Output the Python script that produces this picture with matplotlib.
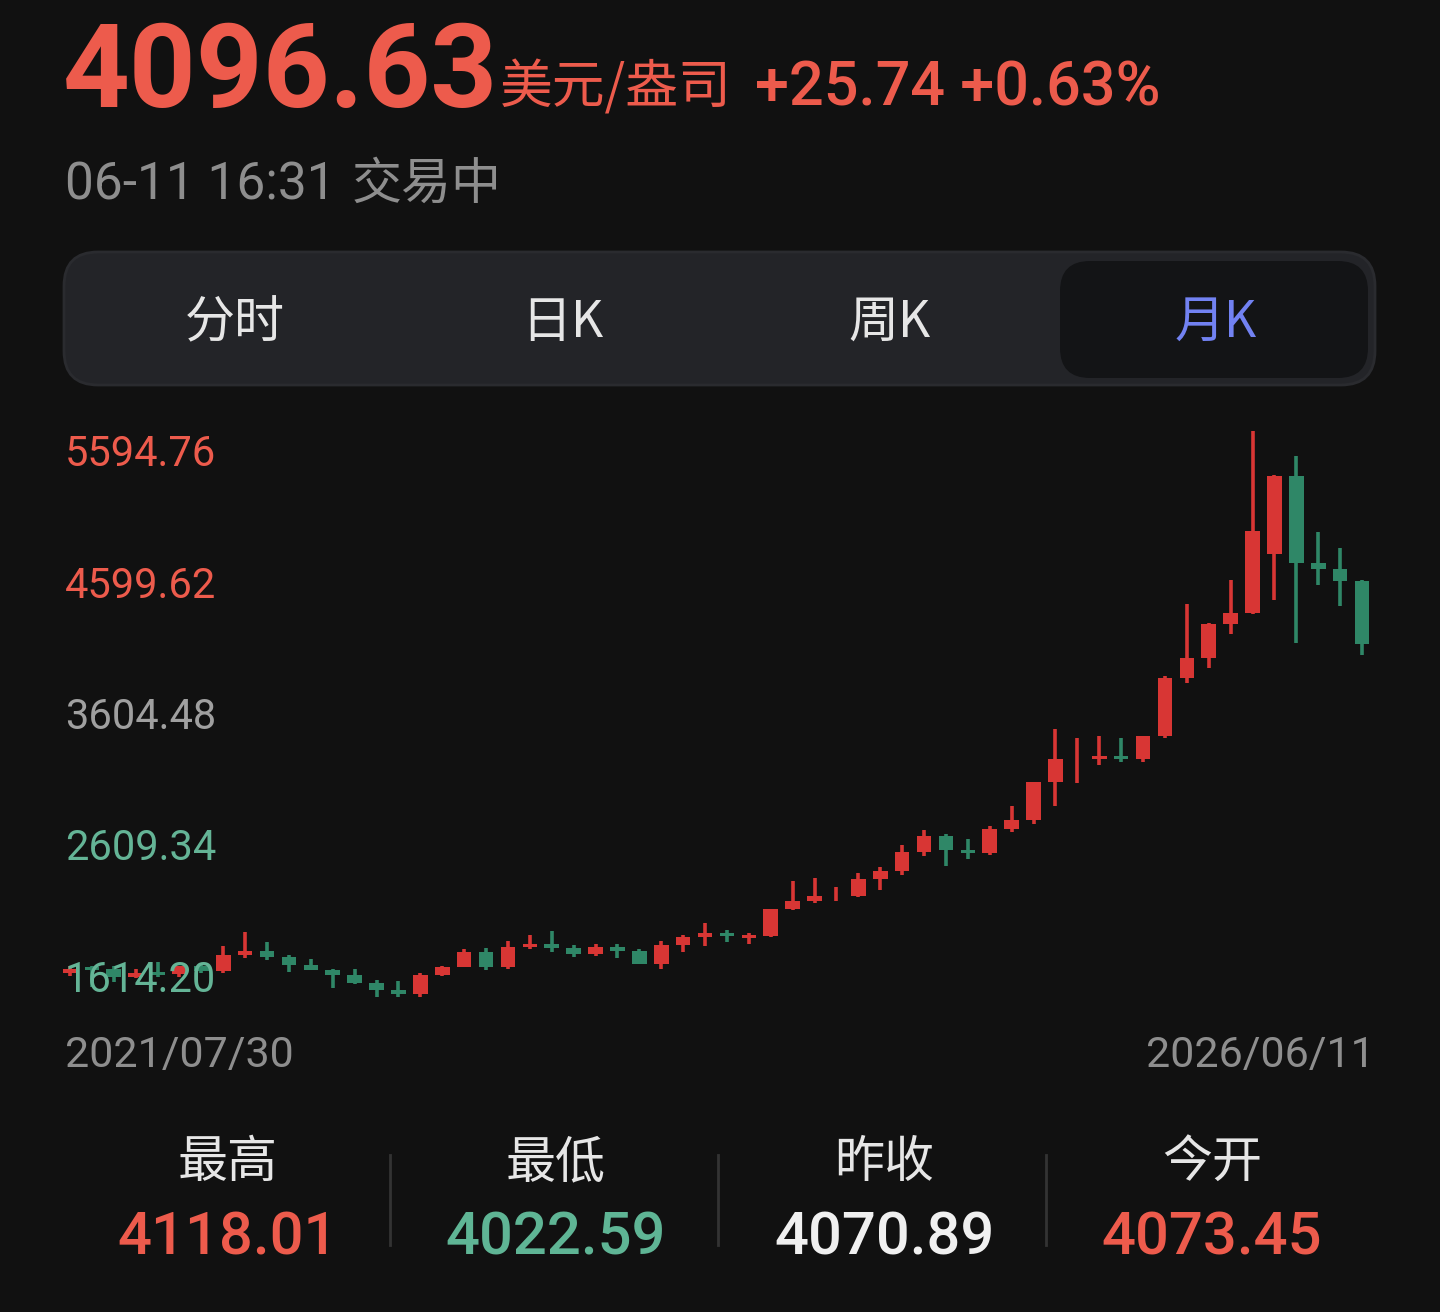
'''
Gold monthly K-line screen (美元/盎司), dark theme.
'''

# Modules
import matplotlib
matplotlib.use('Agg')
from matplotlib import pyplot as plt
from matplotlib.patches import FancyBboxPatch
import numpy as np

# Monthly candles 2021/07 .. 2026/06
months = ['2021-07', '2021-08', '2021-09', '2021-10', '2021-11', '2021-12',
          '2022-01', '2022-02', '2022-03', '2022-04', '2022-05', '2022-06',
          '2022-07', '2022-08', '2022-09', '2022-10', '2022-11', '2022-12',
          '2023-01', '2023-02', '2023-03', '2023-04', '2023-05', '2023-06',
          '2023-07', '2023-08', '2023-09', '2023-10', '2023-11', '2023-12',
          '2024-01', '2024-02', '2024-03', '2024-04', '2024-05', '2024-06',
          '2024-07', '2024-08', '2024-09', '2024-10', '2024-11', '2024-12',
          '2025-01', '2025-02', '2025-03', '2025-04', '2025-05', '2025-06',
          '2025-07', '2025-08', '2025-09', '2025-10', '2025-11', '2025-12',
          '2026-01', '2026-02', '2026-03', '2026-04', '2026-05', '2026-06']

opens = [1781, 1814, 1813, 1757, 1783, 1774, 1829, 1796, 1909, 1937,
         1897, 1837, 1807, 1766, 1711, 1660, 1633, 1768, 1824, 1928,
         1826, 1969, 1990, 1962, 1919, 1965, 1940, 1849, 1983, 2036,
         2063, 2040, 2044, 2230, 2286, 2326, 2327, 2447, 2503, 2634,
         2744, 2650, 2625, 2798, 2857, 3123, 3289, 3289, 3303, 3290,
         3448, 3858, 4000, 4238, 4318, 4730, 5278, 4667, 4624, 4540]
highs = [1832, 1834, 1834, 1814, 1860, 1831, 1853, 1975, 2070, 1998,
         1910, 1879, 1814, 1808, 1735, 1730, 1786, 1833, 1949, 1960,
         2009, 2048, 2079, 1983, 1987, 1987, 1953, 2009, 2052, 2135,
         2088, 2065, 2236, 2431, 2450, 2388, 2484, 2531, 2685, 2790,
         2762, 2726, 2817, 2956, 3128, 3500, 3435, 3452, 3439, 3453,
         3872, 4381, 4245, 4549, 5594.76, 5285, 5419, 4885, 4772, 4545]
lows = [1765, 1688, 1722, 1746, 1758, 1753, 1780, 1780, 1890, 1872,
        1787, 1805, 1681, 1709, 1614.20, 1617, 1616, 1765, 1823, 1805,
        1809, 1949, 1932, 1893, 1903, 1885, 1846, 1810, 1931, 1973,
        2002, 1984, 2039, 2229, 2277, 2286, 2320, 2364, 2472, 2604,
        2536, 2583, 2614, 2772, 2832, 2957, 3121, 3248, 3268, 3268,
        3436, 3824, 3930, 4167, 4310, 4406, 4104, 4512, 4364, 4022.59]
closes = [1814, 1813, 1757, 1783, 1774, 1829, 1796, 1909, 1937, 1897,
          1837, 1807, 1766, 1711, 1660, 1633, 1768, 1824, 1928, 1826,
          1969, 1990, 1962, 1919, 1965, 1940, 1849, 1983, 2036, 2063,
          2040, 2044, 2230, 2286, 2327, 2326, 2447, 2503, 2634, 2744,
          2650, 2625, 2798, 2857, 3123, 3289, 3289, 3303, 3290, 3448,
          3858, 4000, 4238, 4315, 4892, 5278, 4667, 4624, 4540, 4096.63]

y_labels = ['5594.76', '4599.62', '3604.48', '2609.34', '1614.20']
date_start = '2021/07/30'
date_end = '2026/06/11'

tabs = ['分时', '日K', '周K', '月K']
stat_names = ['最高', '最低', '昨收', '今开']
stat_values = ['4118.01', '4022.59', '4070.89', '4073.45']

BG = '#111111'
RED = '#d83634'
GREEN = '#2f8767'
RED_TXT = '#ed5b4c'
GREEN_TXT = '#5fb595'
GRAY_TXT = '#8e8e8e'
CJK = ['Noto Sans CJK SC', 'DejaVu Sans']
NUM = ['Roboto', 'DejaVu Sans']


def main():

    figure = plt.figure(figsize=(14.4, 13.12), dpi=100, facecolor=BG)

    # Pixel canvas for the header, tabs and footer
    bg = figure.add_axes([0, 0, 1, 1])
    bg.set_xlim(0, 1440)
    bg.set_ylim(1312, 0)
    bg.axis('off')

    bg.text(63, 107, '4096.63', fontsize=84, fontweight='bold',
            family=NUM, color=RED_TXT, va='baseline')
    bg.text(500, 104, '美元/盎司', fontsize=38, family=CJK,
            color=RED_TXT, va='baseline')
    bg.text(755, 105, '+25.74 +0.63%', fontsize=44, fontweight='medium',
            family=NUM, color=RED_TXT, va='baseline')
    bg.text(65, 185, '06-11 16:31', fontsize=37, family=NUM,
            color=GRAY_TXT, va='center')
    bg.text(352, 185, '交易中', fontsize=36, family=CJK,
            color=GRAY_TXT, va='center')

    # Tab bar
    bg.add_patch(FancyBboxPatch((64, 252), 1311, 133,
                                boxstyle='round,pad=0,rounding_size=34',
                                fc='#232428', ec='#2a2b2f', lw=2))
    bg.add_patch(FancyBboxPatch((1060, 261), 308, 117,
                                boxstyle='round,pad=0,rounding_size=30',
                                fc='#131416', ec='none'))
    for i, tab in enumerate(tabs):
        bg.text(235 + i * 327, 323, tab, fontsize=36, family=CJK,
                color='#7282f2' if i == 3 else '#e6e6e6',
                ha='center', va='center')

    # Dates under the chart
    bg.text(65, 1056, date_start, fontsize=31, family=NUM,
            color=GRAY_TXT, va='center')
    bg.text(1375, 1056, date_end, fontsize=31, family=NUM,
            color=GRAY_TXT, va='center', ha='right')

    # Footer stats
    stat_colors = [RED_TXT, GREEN_TXT, '#f0f0f0', RED_TXT]
    for i, (name, val) in enumerate(zip(stat_names, stat_values)):
        cx = 228 + i * 328
        bg.text(cx, 1163, name, fontsize=36, family=CJK, color='#e6e6e6',
                ha='center', va='center')
        bg.text(cx, 1238, val, fontsize=43, fontweight='medium', family=NUM,
                color=stat_colors[i], ha='center', va='center')
        if i > 0:
            bg.plot([cx - 166, cx - 166], [1155, 1245], color='#333333',
                    lw=2)

    # Candles
    ax = figure.add_axes([59 / 1440, (1312 - 997) / 1312,
                          1314 / 1440, 566 / 1312])
    ax.set_facecolor('none')
    ax.axis('off')

    o = np.array(opens, dtype=float)
    h = np.array(highs, dtype=float)
    l = np.array(lows, dtype=float)
    c = np.array(closes, dtype=float)
    x = np.arange(len(months))
    colors = np.where(c >= o, RED, GREEN)

    ax.vlines(x, l, h, colors=colors, linewidth=2.6, zorder=2)
    body = np.abs(c - o)
    min_body = 20.0
    body_h = np.where((body > 0) & (body < min_body), min_body, body)
    bottom = np.minimum(o, c) - (body_h - body) / 2
    ax.bar(x, body_h, bottom=bottom, width=0.67, color=colors,
           linewidth=0, zorder=3)

    ax.set_xlim(-0.5, len(months) - 0.5)
    ax.set_ylim(float(y_labels[-1]), float(y_labels[0]))

    label_colors = [RED_TXT, RED_TXT, '#a0a0a0', '#64b496', '#64b496']
    for pos, lab, col in zip(np.linspace(0.963, 0.035, 5), y_labels,
                             label_colors):
        bg.text(65, 1000 - pos * 566, lab, fontsize=30, family=NUM,
                color=col, va='center', zorder=5)
    bg.set_zorder(3)
    bg.patch.set_alpha(0)
    ax.set_zorder(2)

    plt.savefig('out.png', dpi=100, facecolor=BG)
    return None


if __name__ == '__main__':
    main()
